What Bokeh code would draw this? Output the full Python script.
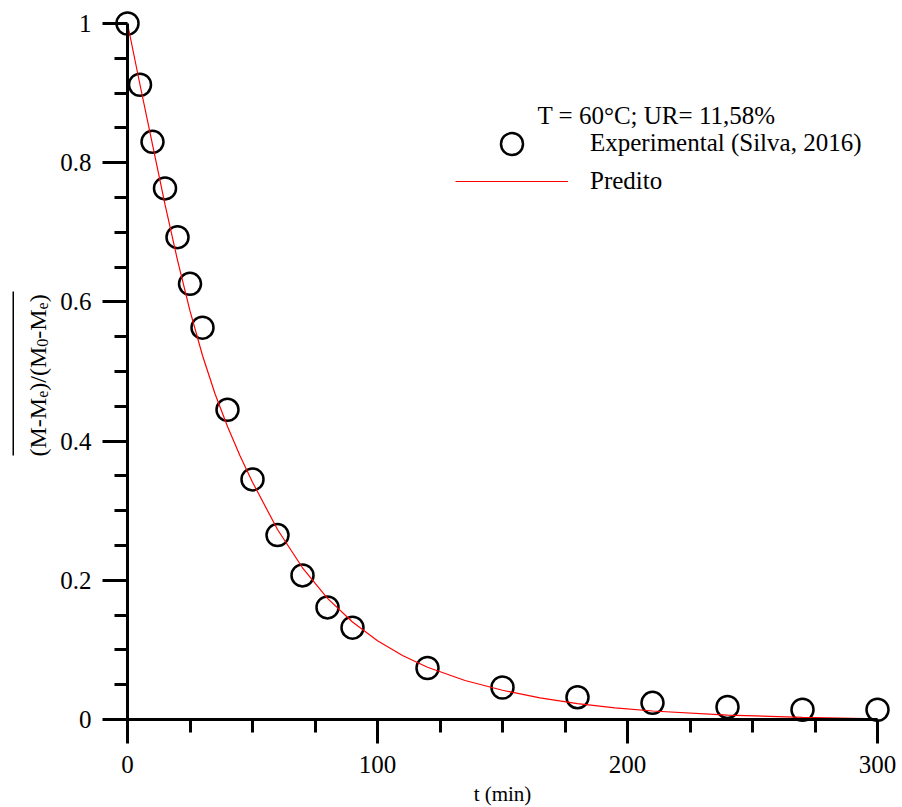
import math
from bokeh.plotting import figure
from bokeh.models import (Range1d, FixedTicker, CustomJSTickFormatter, Legend, LegendItem,
                          Label, BoxAnnotation, ColumnDataSource)
from bokeh.embed import file_html
from bokeh.resources import INLINE

# ---- data ----
t_exp = [0, 5, 10, 15, 20, 25, 30, 40, 50, 60, 70, 80, 90, 120, 150, 180, 210, 240, 270, 300]
mr_exp = [1.000, 0.912, 0.830, 0.763, 0.693, 0.626, 0.563, 0.445, 0.345, 0.265, 0.207, 0.161,
          0.132, 0.074, 0.046, 0.032, 0.024, 0.018, 0.014, 0.014]

t_pred = [0, 5, 10, 15, 20, 25, 30, 35, 40, 45, 50, 60, 70, 80, 90, 100, 110, 120, 135, 150,
          165, 180, 195, 210, 240, 270, 300]
mr_pred = [1.000, 0.912, 0.826, 0.740, 0.660, 0.587, 0.523, 0.468, 0.421, 0.379, 0.341, 0.273,
           0.218, 0.174, 0.140, 0.113, 0.092, 0.075, 0.056, 0.042, 0.031, 0.0228, 0.0167,
           0.0122, 0.0064, 0.0030, 0.0010]

x_ticks = [0, 100, 200, 300]
x_minor = [25, 50, 75, 125, 150, 175, 225, 250, 275]
y_ticks = [0, 0.2, 0.4, 0.6, 0.8, 1]
y_minor = [0.05, 0.1, 0.15, 0.25, 0.3, 0.35, 0.45, 0.5, 0.55, 0.65, 0.7, 0.75, 0.85, 0.9, 0.95]

legend_title = "T = 60°C; UR= 11,58%"
label_exp = "Experimental (Silva, 2016)"
label_pred = "Predito"
x_title = "t (min)"

FONT = "Liberation Serif"

W, H = 902, 807
# frame fills canvas; axes fixed at 0
X0_PX, X300_PX = 127, 877
Y0_PX, Y1_PX = 719, 23
xs = (X300_PX - X0_PX) / 300.0
ys = (Y0_PX - Y1_PX) / 1.0
x_start = -X0_PX / xs
x_end = 300 + (W - X300_PX) / xs
y_end = 1 + Y1_PX / ys
y_start = -(H - Y0_PX) / ys


def ydata(py):
    return (Y0_PX - py) / ys


p = figure(width=W, height=H, output_backend="svg", toolbar_location=None,
           x_range=Range1d(x_start, x_end), y_range=Range1d(y_start, y_end),
           min_border=0, min_border_left=0, min_border_right=0,
           min_border_top=0, min_border_bottom=0)
p.outline_line_color = None
p.grid.visible = False
p.background_fill_color = "white"
p.border_fill_color = "white"

src_exp = ColumnDataSource(dict(t=t_exp, mr=mr_exp))
src_pred = ColumnDataSource(dict(t=t_pred, mr=mr_pred))

sc = p.scatter("t", "mr", source=src_exp, marker="circle", size=22, fill_color=None,
               line_color="black", line_width=2.5)
ln = p.line("t", "mr", source=src_pred, line_color="#ff0000", line_width=1.2)

# axes
xa = p.xaxis[0]
xa.fixed_location = 0
xa.bounds = (0, 300)
xa.ticker = FixedTicker(ticks=x_ticks, minor_ticks=x_minor)
xa.axis_line_width = 3
xa.major_tick_line_width = 3
xa.minor_tick_line_width = 3
xa.major_tick_in = 0
xa.major_tick_out = 24
xa.minor_tick_in = 0
xa.minor_tick_out = 13
xa.major_label_standoff = 12
xa.major_label_text_font = FONT
xa.major_label_text_font_size = "25px"
xa.major_label_text_color = "black"
xa.axis_label = x_title
xa.axis_label_text_font = FONT
xa.axis_label_text_font_size = "21px"
xa.axis_label_text_font_style = "normal"
xa.axis_label_text_color = "black"
xa.axis_label_standoff = 6

ya = p.yaxis[0]
ya.fixed_location = 0
ya.bounds = (0, 1)
ya.ticker = FixedTicker(ticks=y_ticks, minor_ticks=y_minor)
ya.formatter = CustomJSTickFormatter(code="return tick.toString()")
ya.axis_line_width = 3
ya.major_tick_line_width = 3
ya.minor_tick_line_width = 3
ya.major_tick_in = 0
ya.major_tick_out = 25
ya.minor_tick_in = 0
ya.minor_tick_out = 13
ya.major_label_standoff = 11
ya.major_label_text_font = FONT
ya.major_label_text_font_size = "25px"
ya.major_label_text_color = "black"
ya.axis_label = None

# y title "(M-Me)/(M0-Me)" with overline, built of rotated pieces
pieces = [("(M-M", 24, 37, 0), ("e", 16, 42, 58.7), (")/(M", 24, 37, 65.8), ("0", 16, 42, 109.8),
          ("-M", 24, 37, 117.8), ("e", 16, 42, 147.1), (")", 24, 37, 154.2)]
start_py = 456
for txt, fs, bx, off in pieces:
    p.add_layout(Label(x=bx, x_units="screen", y=ydata(start_py - off), y_units="data",
                       text=txt, angle=math.pi / 2, text_font=FONT,
                       text_font_size=f"{fs}px", text_color="black",
                       text_align="left", text_baseline="alphabetic"))
p.add_layout(BoxAnnotation(left=12, right=13.5, left_units="screen", right_units="screen",
                           bottom=ydata(455), top=ydata(291), fill_color="black",
                           fill_alpha=1.0, line_alpha=0))

# legend
p.add_layout(Label(x=656, x_units="screen", y=ydata(115), y_units="data", text=legend_title,
                   text_font=FONT, text_font_size="25px", text_color="black",
                   text_align="center", text_baseline="alphabetic"))
common = dict(orientation="vertical", glyph_width=113, label_standoff=22, spacing=0,
              padding=0, margin=0, border_line_alpha=0, background_fill_alpha=0,
              label_text_font=FONT, label_text_font_size="25px", label_text_color="black")
legend1 = Legend(items=[LegendItem(label=label_exp, renderers=[sc])],
                 location=(455, 807 - 170.5), glyph_height=55, label_height=55, **common)
legend2 = Legend(items=[LegendItem(label=label_pred, renderers=[ln])],
                 location=(455, 807 - 197), glyph_height=32, label_height=32, **common)
p.add_layout(legend1)
p.add_layout(legend2)

open("out.html", "w").write(file_html(p, INLINE))
